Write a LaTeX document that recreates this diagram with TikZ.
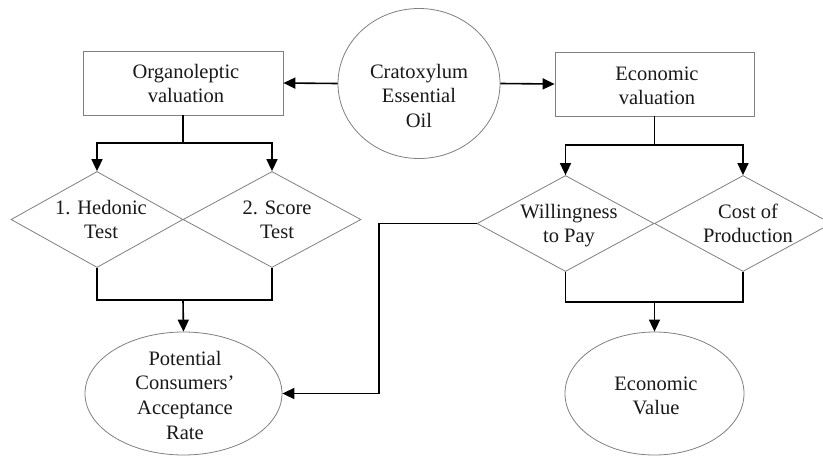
\documentclass[tikz,border=0pt]{standalone}
\usepackage{fontspec}
\setmainfont{Liberation Serif}
\usetikzlibrary{shapes.geometric,arrows.meta}
\begin{document}
\begin{tikzpicture}[x=1pt,y=-1pt,
  shapeline/.style={draw=black!50,line width=0.8pt,inner sep=0pt},
  boxshape/.style={shapeline,rectangle,minimum width=#1,minimum height=64pt},
  ellshape/.style={shapeline,ellipse},
  diashape/.style={shapeline,diamond,minimum height=96pt},
  txt/.style={font=\fontsize{20.5}{24.7}\selectfont,align=center,inner sep=0pt,anchor=base,text=black!90},
  conn/.style={draw=black,line width=1.6pt},
  arr/.style={conn,-{Triangle[length=12pt,width=11pt]}}]
\useasboundingbox[fill=white] (0,0) rectangle (823,456);

% shapes
\node[boxshape=200pt] (org) at (183,83) {};
\node[boxshape=199pt] (eco) at (654.5,84) {};
\node[ellshape,minimum width=162pt,minimum height=150pt] (oil) at (419,83.5) {};
\node[diashape,minimum width=172pt] (d1) at (97,219.5) {};
\node[diashape,minimum width=178pt] (d2) at (272,219.5) {};
\node[diashape,minimum width=177pt] (d3) at (565.5,223.5) {};
\node[diashape,minimum width=177pt] (d4) at (743,223.5) {};
\node[ellshape,minimum width=197pt,minimum height=123pt] (pot) at (183.5,393.5) {};
\node[ellshape,minimum width=179pt,minimum height=123pt] (ev) at (654.5,393.5) {};

% texts (base = baseline of the last line)
\node[txt] (torg) at (186,102.7) {Organoleptic\\valuation};
\node[txt] (teco) at (657,104.7) {Economic\\valuation};
\node[txt] (toil) at (419,127.4) {Cratoxylum\\Essential\\Oil};
\node[txt] (td1) at (101,238.7) {1. Hedonic\\Test};
\node[txt] (td2) at (277,238.7) {2. Score\\Test};
\node[txt] (td3) at (569,242.7) {Willingness\\to Pay};
\node[txt] (td4) at (748,242.7) {Cost of\\Production};
\node[txt] (tpot) at (185,439.1) {Potential\\Consumers’\\Acceptance\\Rate};
\node[txt] (tev) at (656,414.7) {Economic\\Value};

% coordinates
\coordinate (ltop) at (183,143);
\coordinate (rtop) at (654.5,145);
\coordinate (lbot) at (183,300);
\coordinate (rbot) at (654.5,302);
\coordinate (wturn) at (379,223.5);

% connectors
\draw[arr] (oil.west) -- (org.east);
\draw[arr] (oil.east) -- (eco.west);
\draw[conn] (org.south) -- (ltop);
\draw[arr] (ltop) -| (d1.north);
\draw[arr] (ltop) -| (d2.north);
\draw[conn] (eco.south) -- (rtop);
\draw[arr] (rtop) -| (d3.north);
\draw[arr] (rtop) -| (d4.north);
\draw[conn] (d1.south) |- (lbot) -| (d2.south);
\draw[arr] (lbot) -- (pot.north);
\draw[conn] (d3.south) |- (rbot) -| (d4.south);
\draw[arr] (rbot) -- (ev.north);
\draw[arr] (d3.west) -- (wturn) |- (pot.east);
\end{tikzpicture}
\end{document}
